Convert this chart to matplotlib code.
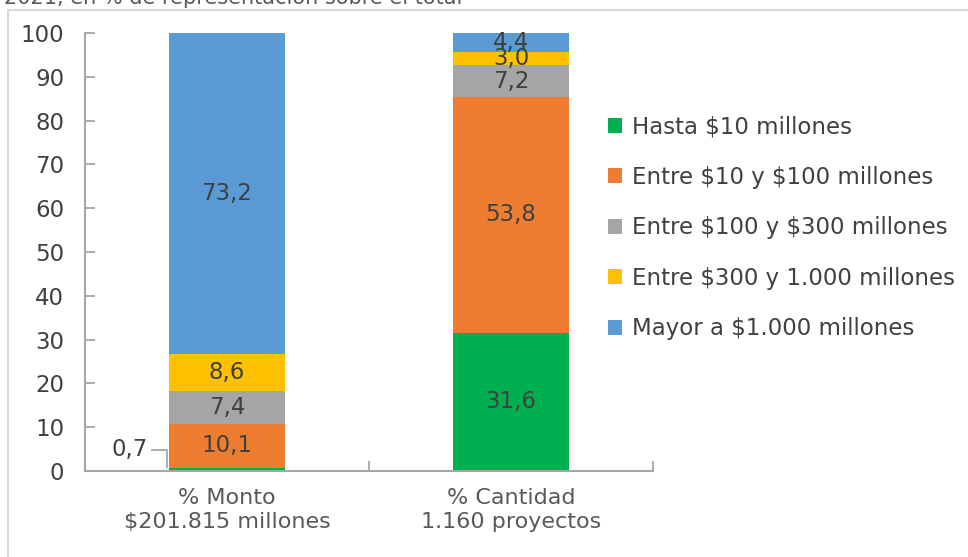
import matplotlib.pyplot as plt
from matplotlib.patches import Rectangle
import numpy as np

plt.rcParams['font.family'] = ['DejaVu Sans']

categorias = ['% Monto\n\\$201.815 millones', '% Cantidad\n1.160 proyectos']
tramos = ['Hasta \\$10 millones', 'Entre \\$10 y \\$100 millones',
          'Entre \\$100 y \\$300 millones', 'Entre \\$300 y 1.000 millones',
          'Mayor a \\$1.000 millones']
monto = [0.7, 10.1, 7.4, 8.6, 73.2]
cantidad = [31.6, 53.8, 7.2, 3.0, 4.4]
colores = ['#00B050', '#ED7D31', '#A5A5A5', '#FFC000', '#5B9BD5']

valores = np.array([monto, cantidad]).T  # fila = tramo, columna = categoria

fig = plt.figure(figsize=(9.68, 5.57), dpi=100)
ax = fig.add_axes([0.0878, 0.1544, 0.5868, 0.7864])

# marco gris claro del grafico
fig.patches.append(Rectangle((0.008, -0.05), 1.1, 1.032, transform=fig.transFigure,
                             fill=False, edgecolor='#D9D9D9', linewidth=1.5))
fig.text(0.004, 1.005, '2021, en % de representación sobre el total',
         fontsize=15, color='#595959', va='center', ha='left')

x = np.arange(len(categorias))
ancho = 0.405
base = np.zeros(len(categorias))
for i, tramo in enumerate(tramos):
    ax.bar(x, valores[i], ancho, bottom=base, color=colores[i], label=tramo)
    for j in range(len(categorias)):
        v = valores[i][j]
        if v >= 1:
            ax.text(x[j], base[j] + v / 2, f'{v:.1f}'.replace('.', ','),
                    ha='center', va='center', fontsize=16.5, color='#404040')
    base += valores[i]

# etiqueta 0,7 fuera de la barra con linea guia
v = valores[0][0]
xl = x[0] - ancho / 2
ax.plot([xl - 0.06, xl - 0.01, xl - 0.01], [4.8, 4.8, v + 0.3],
        color='#A6A6A6', linewidth=1.3, clip_on=False)
ax.text(xl - 0.075, 4.8, f'{v:.1f}'.replace('.', ','), ha='right', va='center',
        fontsize=16.5, color='#404040')

ax.set_xlim(-0.5, 1.5)
ax.set_ylim(0, 100)
ax.set_yticks(range(0, 101, 10))
ax.set_xticks(x)
ax.set_xticklabels(categorias, fontsize=16, color='#595959', linespacing=1.3)
ax.set_xticks([0.5, 1.5], minor=True)
ax.tick_params(axis='x', which='major', length=0, pad=12)
ax.tick_params(axis='x', which='minor', direction='in', length=7, width=1.3,
               color='#A6A6A6')
ax.tick_params(axis='y', direction='in', length=7, width=1.3, color='#A6A6A6',
               labelsize=16.5, labelcolor='#404040', pad=15)

for s in ['top', 'right']:
    ax.spines[s].set_visible(False)
for s in ['left', 'bottom']:
    ax.spines[s].set_color('#A6A6A6')
    ax.spines[s].set_linewidth(1.5)

fig.legend(loc='upper left', bbox_to_anchor=(0.607, 0.83), frameon=False,
           fontsize=16.5, labelcolor='#404040', handlelength=0.6, handleheight=0.6,
           handletextpad=0.45, labelspacing=1.2)

fig.savefig('out.png', dpi=100)
